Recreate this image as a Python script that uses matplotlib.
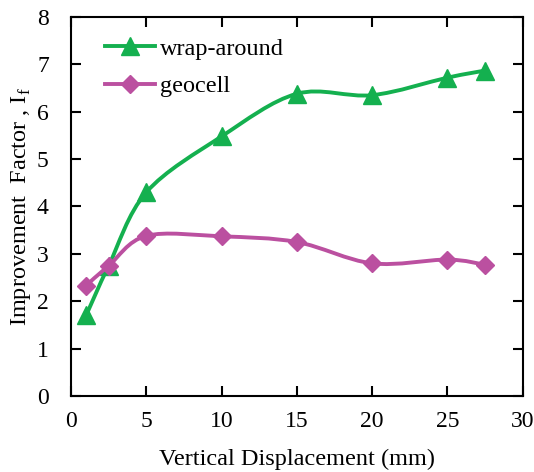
import numpy as np
import matplotlib
matplotlib.use("Agg")
from matplotlib import pyplot as plt
from matplotlib.path import Path
from matplotlib.patches import PathPatch
from matplotlib.lines import Line2D

displacement = [1, 2.5, 5, 10, 15, 20, 25, 27.5]
wrap_around = [1.70, 2.75, 4.30, 5.48, 6.38, 6.35, 6.72, 6.87]
geocell = [2.33, 2.75, 3.38, 3.37, 3.25, 2.80, 2.88, 2.77]

GREEN = "#14b04f"
PINK = "#bb50a0"

plt.rcParams["font.family"] = ["Liberation Serif", "DejaVu Serif"]
plt.rcParams["mathtext.fontset"] = "custom"
plt.rcParams["mathtext.rm"] = "Liberation Serif"


def smooth_path(x, y):
    # Excel style smoothed line: cubic bezier segments through every point
    x = np.asarray(x, float)
    y = np.asarray(y, float)
    n = len(x)
    verts = [(x[0], y[0])]
    codes = [Path.MOVETO]
    for i in range(n - 1):
        p0 = np.array([x[max(i - 1, 0)], y[max(i - 1, 0)]])
        p1 = np.array([x[i], y[i]])
        p2 = np.array([x[i + 1], y[i + 1]])
        p3 = np.array([x[min(i + 2, n - 1)], y[min(i + 2, n - 1)]])
        c1 = p1 + (p2 - p0) / 6
        c2 = p2 - (p3 - p1) / 6
        verts += [tuple(c1), tuple(c2), tuple(p2)]
        codes += [Path.CURVE4] * 3
    return Path(verts, codes)


fig = plt.figure(figsize=(5.34, 4.72), dpi=100)
ax = fig.add_axes([0.133, 0.161, 0.846, 0.803])

ax.add_patch(PathPatch(smooth_path(displacement, wrap_around), fill=False,
                       edgecolor=GREEN, lw=2.8, zorder=2))
ax.plot(displacement, wrap_around, ls="none", marker="^", ms=12.5,
        color=GREEN, zorder=3)
ax.add_patch(PathPatch(smooth_path(displacement, geocell), fill=False,
                       edgecolor=PINK, lw=2.8, zorder=4))
ax.plot(displacement, geocell, ls="none", marker="D", ms=9.5,
        color=PINK, zorder=5)

ax.set_xlim(0, 30)
ax.set_ylim(0, 8)
ax.set_xticks(np.arange(0, 31, 5))
ax.set_yticks(np.arange(0, 9, 1))
ax.tick_params(direction="in", top=True, right=True, length=7, width=1.5,
               labelsize=17, pad=11)
ax.tick_params(axis="y", pad=16)
for s in ax.spines.values():
    s.set_linewidth(1.5)

ax.set_xlabel("Vertical Displacement (mm)", fontsize=17.5, labelpad=12)
ax.set_ylabel("Improvement  Factor , I$_\\mathregular{f}$", fontsize=17.5,
              labelpad=3)

handles = [
    Line2D([], [], color=GREEN, lw=2.8, marker="^", ms=12.5),
    Line2D([], [], color=PINK, lw=2.8, marker="D", ms=9.5),
]
ax.legend(handles, ["wrap-around", "geocell"], loc="upper left",
          frameon=False, fontsize=17.5, handlelength=2.05, handletextpad=0.2,
          borderaxespad=0.45, labelspacing=0.65, bbox_to_anchor=(0.03, 1.0))

fig.savefig("out.png", dpi=100)
